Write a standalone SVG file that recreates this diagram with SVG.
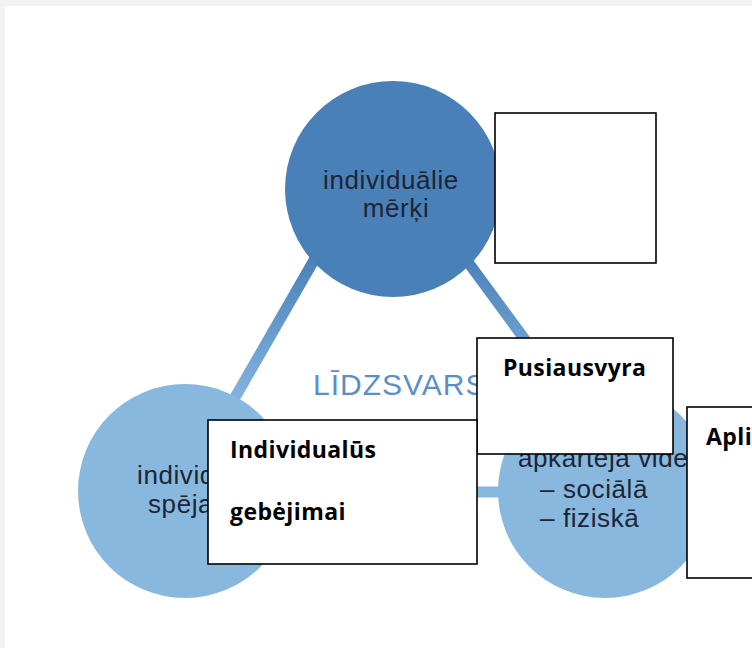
<svg xmlns="http://www.w3.org/2000/svg" width="752" height="648" viewBox="0 0 752 648">
  <style>
    .lbl { font-family: "Liberation Sans", Arial, sans-serif; font-size: 26px; letter-spacing: 0.6px; fill: #1c2536; }
    .box { fill: #ffffff; stroke: #000000; stroke-width: 1.6; }
    .btxt { font-family: "Open Sans", "Noto Sans", sans-serif; font-weight: bold; font-size: 23px; letter-spacing: 0.4px; fill: #000000; }
    .conn { stroke-width: 11; fill: none; }
  </style>
  <defs>
    <linearGradient id="gradConn" gradientUnits="userSpaceOnUse" x1="0" y1="255" x2="0" y2="400">
      <stop offset="0" stop-color="#4a80b8"/>
      <stop offset="1" stop-color="#82b4de"/>
    </linearGradient>
  </defs>
  <rect x="0" y="0" width="752" height="648" fill="#f3f3f3"/>
  <rect x="5" y="6" width="747" height="642" fill="#ffffff"/>

  <g id="connectors">
    <line class="conn" x1="340" y1="215" x2="222" y2="420" stroke="url(#gradConn)"/>
    <line class="conn" x1="437" y1="220" x2="584" y2="420" stroke="url(#gradConn)"/>
    <line class="conn" x1="250" y1="492" x2="560" y2="492" stroke="#88b8de"/>
  </g>

  <g id="node-goals">
    <circle cx="393" cy="189" r="108" fill="#4a80b8"/>
    <text class="lbl" x="391" y="189" text-anchor="middle">individuālie</text>
    <text class="lbl" x="396" y="217" text-anchor="middle">mērķi</text>
  </g>

  <g id="node-abilities">
    <circle cx="185" cy="491" r="107" fill="#88b8de"/>
    <text class="lbl" x="137" y="484">individuālās</text>
    <text class="lbl" x="148" y="513">spējas</text>
  </g>

  <g id="node-environment">
    <circle cx="605" cy="491" r="107" fill="#88b8de"/>
    <text class="lbl" x="518" y="467">apkārtējā vide</text>
    <text class="lbl" x="540" y="498">– sociālā</text>
    <text class="lbl" x="540" y="527">– fiziskā</text>
  </g>

  <g id="center-label">
    <text x="313" y="395" font-family="Liberation Sans, Arial, sans-serif" font-size="30" letter-spacing="1" fill="#5a8fc8">LĪDZSVARS</text>
  </g>

  <g id="box-empty">
    <rect class="box" x="495" y="113" width="161" height="150"/>
  </g>

  <g id="box-pusiausvyra">
    <rect class="box" x="477" y="338" width="196" height="116"/>
    <text class="btxt" x="503" y="376">Pusiausvyra</text>
  </g>

  <g id="box-individualus">
    <rect class="box" x="208" y="420" width="269" height="144"/>
    <text class="btxt" x="230" y="458">Individualūs</text>
    <text class="btxt" x="230" y="520">gebėjimai</text>
  </g>

  <g id="box-apli">
    <rect class="box" x="687" y="407" width="120" height="171"/>
    <text class="btxt" x="706" y="445" letter-spacing="0">Apli</text>
  </g>
</svg>
